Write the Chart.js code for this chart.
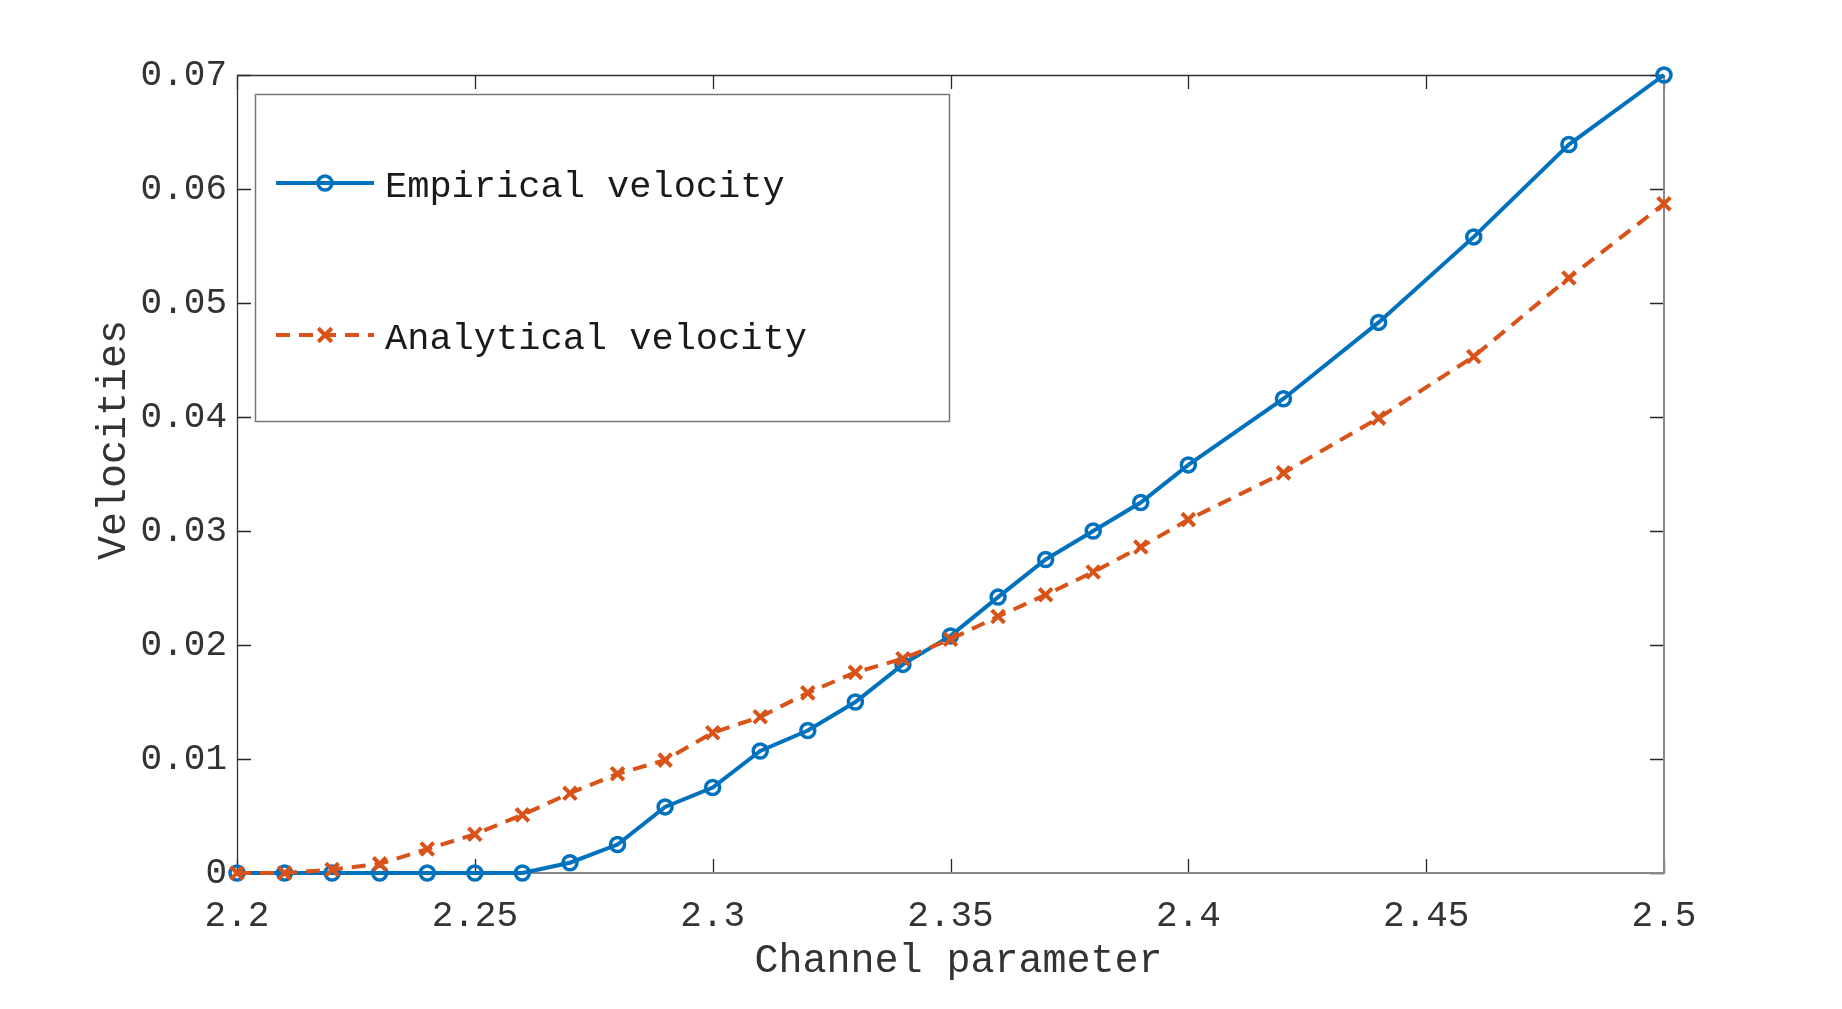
<!DOCTYPE html>
<html><head><meta charset="utf-8">
<script src="https://cdn.jsdelivr.net/npm/chart.js@4.4.1/dist/chart.umd.min.js"></script>
<style>html,body{margin:0;padding:0;background:#fff;}canvas{display:block;}</style>
</head><body>
<canvas id="c" width="1842" height="1009"></canvas>
<script>
const channelParameter = [2.20,2.21,2.22,2.23,2.24,2.25,2.26,2.27,2.28,2.29,2.30,2.31,2.32,2.33,2.34,2.35,2.36,2.37,2.38,2.39,2.40,2.42,2.44,2.46,2.48,2.50];
const empiricalVelocity = [0,0,0,0,0,0,0,0.0009,0.0025,0.0058,0.0075,0.0107,0.0125,0.0150,0.0183,0.0208,0.0242,0.0275,0.0300,0.0325,0.0358,0.0416,0.0483,0.0558,0.0639,0.0700];
const analyticalVelocity = [0,0,0.0003,0.0008,0.0021,0.0034,0.0051,0.0070,0.0087,0.0099,0.0123,0.0137,0.0158,0.0176,0.0188,0.0205,0.0225,0.0244,0.0264,0.0286,0.0310,0.0351,0.0399,0.0453,0.0522,0.0587];
const xTickValues = [2.2,2.25,2.3,2.35,2.4,2.45,2.5];
const xTickLabels = ['2.2','2.25','2.3','2.35','2.4','2.45','2.5'];
const yTickValues = [0,0.01,0.02,0.03,0.04,0.05,0.06,0.07];
const yTickLabels = ['0','0.01','0.02','0.03','0.04','0.05','0.06','0.07'];
const seriesLabels = ['Empirical velocity','Analytical velocity'];
const xTitle = 'Channel parameter';
const yTitle = 'Velocities';

const BLUE = '#0072BD', ORANGE = '#D95319';
const MONO = '"Liberation Mono", "Courier New", monospace';
const TEXT = '#333333';

function toPoints(xs, ys){ return xs.map((x,i)=>({x:x, y:ys[i]})); }

function drawMarker(ctx, style, x, y, r, lw, color){
  ctx.save();
  ctx.strokeStyle = color; ctx.lineWidth = lw; ctx.setLineDash([]);
  ctx.beginPath();
  if (style === 'circle') { ctx.arc(x,y,r,0,Math.PI*2); }
  else { const d = r*0.75; ctx.moveTo(x-d,y-d); ctx.lineTo(x+d,y+d); ctx.moveTo(x+d,y-d); ctx.lineTo(x-d,y+d); }
  ctx.stroke();
  ctx.restore();
}

function shiftTitle(s, dx, dy){
  if (s._shiftedTitle) return;
  const orig = s.drawTitle.bind(s);
  s.drawTitle = function(){ const c = this.ctx; c.save(); c.translate(dx,dy); orig(); c.restore(); };
  s._shiftedTitle = true;
}

const framePlugin = {
  id: 'frame',
  beforeDatasetsDraw(chart){
    const {ctx, chartArea:a, scales:{x, y}} = chart;
    ctx.save();
    ctx.strokeStyle = '#262626'; ctx.lineWidth = 1.3; ctx.setLineDash([]);
    const TL = 14;
    ctx.beginPath();
    xTickValues.forEach(v=>{
      const px = Math.round(x.getPixelForValue(v))+0.5;
      ctx.moveTo(px, a.bottom); ctx.lineTo(px, a.bottom-TL);
      ctx.moveTo(px, a.top); ctx.lineTo(px, a.top+TL);
    });
    yTickValues.forEach(v=>{
      const py = Math.round(y.getPixelForValue(v))+0.5;
      ctx.moveTo(a.left, py); ctx.lineTo(a.left+TL, py);
      ctx.moveTo(a.right, py); ctx.lineTo(a.right-TL, py);
    });
    ctx.stroke();
    ctx.strokeStyle = '#333'; ctx.lineWidth = 1.3;
    ctx.beginPath();
    ctx.moveTo(a.left+0.5, a.bottom); ctx.lineTo(a.left+0.5, a.top+0.5); ctx.lineTo(a.right, a.top+0.5);
    ctx.stroke();
    ctx.strokeStyle = '#888'; ctx.lineWidth = 2;
    ctx.beginPath();
    ctx.moveTo(a.left, a.bottom); ctx.lineTo(a.right, a.bottom); ctx.lineTo(a.right, a.top);
    ctx.stroke();
    ctx.restore();
  }
};

const legendPlugin = {
  id: 'matlabLegend',
  afterDraw(chart){
    const ctx = chart.ctx;
    ctx.save();
    ctx.fillStyle = '#fff';
    ctx.fillRect(255,94,694,327);
    ctx.strokeStyle = '#777'; ctx.lineWidth = 1.5; ctx.setLineDash([]);
    ctx.strokeRect(255.5,94.5,694,327);
    const rows = [{y:183, base:197}, {y:335, base:349}];
    chart.data.datasets.forEach((ds,i)=>{
      const r = rows[i];
      ctx.strokeStyle = ds.borderColor; ctx.lineWidth = ds.borderWidth;
      ctx.setLineDash(ds.borderDash || []);
      ctx.beginPath(); ctx.moveTo(276, r.y); ctx.lineTo(374, r.y); ctx.stroke();
      ctx.setLineDash([]);
      drawMarker(ctx, ds.pointStyle, 325, r.y, ds.pointRadius, ds.pointBorderWidth, ds.borderColor);
      ctx.fillStyle = '#1a1a1a';
      ctx.font = '37px ' + MONO;
      ctx.textBaseline = 'alphabetic'; ctx.textAlign = 'left';
      ctx.fillText(ds.label, 385, r.base);
    });
    ctx.restore();
  }
};

const chart = new Chart(document.getElementById('c'), {
  type: 'line',
  data: {
    datasets: [
      { label: seriesLabels[0], data: toPoints(channelParameter, empiricalVelocity),
        borderColor: BLUE, backgroundColor: 'rgba(0,0,0,0)', borderWidth: 4,
        pointStyle: 'circle', pointRadius: 7, pointBorderWidth: 3.5, pointBackgroundColor: 'rgba(0,0,0,0)',
        pointBorderColor: BLUE, tension: 0, clip: false, order: 1 },
      { label: seriesLabels[1], data: toPoints(channelParameter, analyticalVelocity),
        borderColor: ORANGE, backgroundColor: 'rgba(0,0,0,0)', borderWidth: 4, borderDash: [14,9],
        pointStyle: 'crossRot', pointRadius: 9, pointBorderWidth: 4, pointBackgroundColor: ORANGE,
        pointBorderColor: ORANGE, tension: 0, clip: false, order: 0 }
    ]
  },
  options: {
    responsive: false, animation: false, devicePixelRatio: 1,
    layout: { padding: { top: 75, right: 178, left: 0, bottom: 0 } },
    plugins: { legend: { display: false }, tooltip: { enabled: false } },
    scales: {
      x: {
        type: 'linear', min: 2.2, max: 2.5,
        afterBuildTicks(s){ s.ticks = xTickValues.map(v=>({value:v})); },
        afterFit(s){ s.height = 136; shiftTitle(s, 8, 0); },
        grid: { display: false, drawTicks: false },
        border: { display: false },
        ticks: { autoSkip: false, maxRotation: 0, padding: 22, color: TEXT,
          font: { family: MONO, size: 36 },
          callback(v, i){ return xTickLabels[i]; } },
        title: { display: true, text: xTitle, color: TEXT, font: { family: MONO, size: 40 },
          padding: { top: 0, bottom: 24 } }
      },
      y: {
        type: 'linear', min: 0, max: 0.07,
        afterBuildTicks(s){ s.ticks = yTickValues.map(v=>({value:v})); },
        afterFit(s){ s.width = 237; shiftTitle(s, 0, -34); },
        grid: { display: false, drawTicks: false },
        border: { display: false },
        ticks: { autoSkip: false, padding: 10, color: TEXT,
          font: { family: MONO, size: 36 },
          callback(v, i){ return yTickLabels[i]; } },
        title: { display: true, text: yTitle, color: TEXT, font: { family: MONO, size: 40 },
          padding: { top: 90, bottom: 0 } }
      }
    }
  },
  plugins: [framePlugin, legendPlugin]
});
</script>
</body></html>
